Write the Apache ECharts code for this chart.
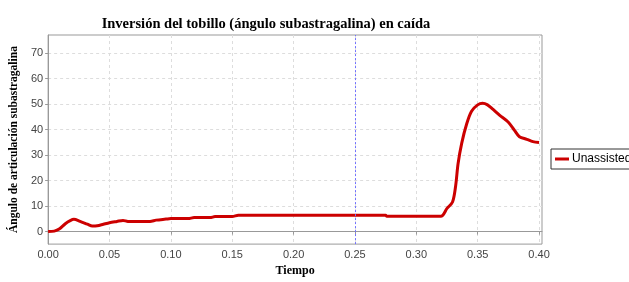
<!DOCTYPE html>
<html>
<head>
<meta charset="utf-8">
<script src="https://cdn.jsdelivr.net/npm/echarts@6/dist/echarts.min.js"></script>
<style>
  html, body { margin: 0; padding: 0; background: #fff; }
  #main { width: 629px; height: 282px; }
</style>
</head>
<body>
<div id="main"></div>
<script>
// tiempo (s) y ángulo (grados)
var tiempo = [0.000, 0.005, 0.009, 0.014, 0.018, 0.021, 0.026, 0.032, 0.036, 0.040, 0.045, 0.050, 0.056, 0.061, 0.065,
  0.083, 0.088, 0.096, 0.100, 0.114, 0.119, 0.132, 0.136, 0.150, 0.155, 0.275, 0.276, 0.320,
  0.325, 0.3295, 0.332, 0.334, 0.337, 0.341, 0.345, 0.350, 0.354, 0.358, 0.362, 0.368, 0.375, 0.380, 0.384, 0.390, 0.395, 0.400];
var unassisted = [0.0, 0.2, 1.0, 3.1, 4.3, 4.8, 4.0, 2.9, 2.2, 2.3, 2.9, 3.5, 4.0, 4.4, 4.0,
  4.0, 4.5, 4.9, 5.1, 5.1, 5.5, 5.5, 5.9, 5.9, 6.4, 6.4, 6.0, 6.0,
  9.1, 11.6, 17.8, 26.6, 34.7, 42.2, 47.2, 49.7, 50.3, 49.7, 48.1, 45.6, 42.9, 39.7, 37.2, 36.2, 35.3, 34.9];
var xTicks = [0, 0.05, 0.10, 0.15, 0.20, 0.25, 0.30, 0.35, 0.40];
var yTicks = [0, 10, 20, 30, 40, 50, 60, 70];
var cursorX = 0.25;

var chart = echarts.init(document.getElementById('main'));
var serif = '"Liberation Serif", "DejaVu Serif", serif';
var sans = '"Liberation Sans", Arial, sans-serif';

chart.setOption({
    animation: false,
    backgroundColor: '#fff',
    title: {
        text: 'Inversión del tobillo (ángulo subastragalina) en caída',
        left: 261,
        textAlign: 'center',
        top: 12,
        textStyle: { fontFamily: serif, fontSize: 14.5, fontWeight: 'bold', color: '#000' }
    },
    legend: {
        left: 551,
        top: 149,
        orient: 'vertical',
        data: ['Unassisted'],
        borderColor: '#333',
        borderWidth: 1,
        borderRadius: 0,
        padding: [4, 6, 4, 4],
        itemWidth: 14,
        itemHeight: 3,
        itemGap: 0,
        icon: 'rect',
        textStyle: { fontFamily: sans, fontSize: 12, color: '#000', padding: [0, 0, 0, -2] }
    },
    grid: {
        left: 43, right: 87, top: 35, bottom: 28,
        show: true, borderColor: '#999', borderWidth: 1, backgroundColor: '#fff'
    },
    xAxis: {
        type: 'value',
        min: 0,
        max: 0.4024,
        name: 'Tiempo',
        nameLocation: 'middle',
        nameGap: 17,
        nameTextStyle: { fontFamily: serif, fontSize: 12, fontWeight: 'bold', color: '#000' },
        axisLine: { show: true, lineStyle: { color: '#999' } },
        axisTick: { show: true, length: 3, lineStyle: { color: '#999' }, customValues: xTicks },
        axisLabel: {
            customValues: xTicks,
            fontFamily: sans, fontSize: 11, color: '#444', margin: 5,
            formatter: function (v) { return v.toFixed(2); }
        },
        splitLine: { show: true, lineStyle: { color: '#ddd', type: [3, 3] } }
    },
    yAxis: {
        type: 'value',
        min: -4.9,
        max: 77.1,
        name: 'Ángulo de articulación subastragalina',
        nameLocation: 'middle',
        nameGap: 20,
        nameTextStyle: { fontFamily: serif, fontSize: 11.5, fontWeight: 'bold', color: '#000' },
        axisLine: { show: true, lineStyle: { color: '#999' } },
        axisTick: { show: true, length: 3, lineStyle: { color: '#999' }, customValues: yTicks },
        axisLabel: {
            customValues: yTicks,
            fontFamily: sans, fontSize: 11, color: '#444', margin: 5
        },
        splitLine: { show: true, lineStyle: { color: '#ddd', type: [3, 3] } }
    },
    series: [
        {
            name: 'Unassisted',
            type: 'line',
            data: tiempo.map(function (t, i) { return [t, unassisted[i]]; }),
            showSymbol: false,
            symbol: 'none',
            smooth: 0.3,
            color: '#cc0000',
            lineStyle: { color: '#cc0000', width: 3 },
            markLine: {
                silent: true,
                symbol: 'none',
                label: { show: false },
                data: [{ xAxis: cursorX, lineStyle: { color: '#7070ff', type: [2, 2], width: 1, opacity: 1 } }]
            }
        }
    ]
});
</script>
</body>
</html>
